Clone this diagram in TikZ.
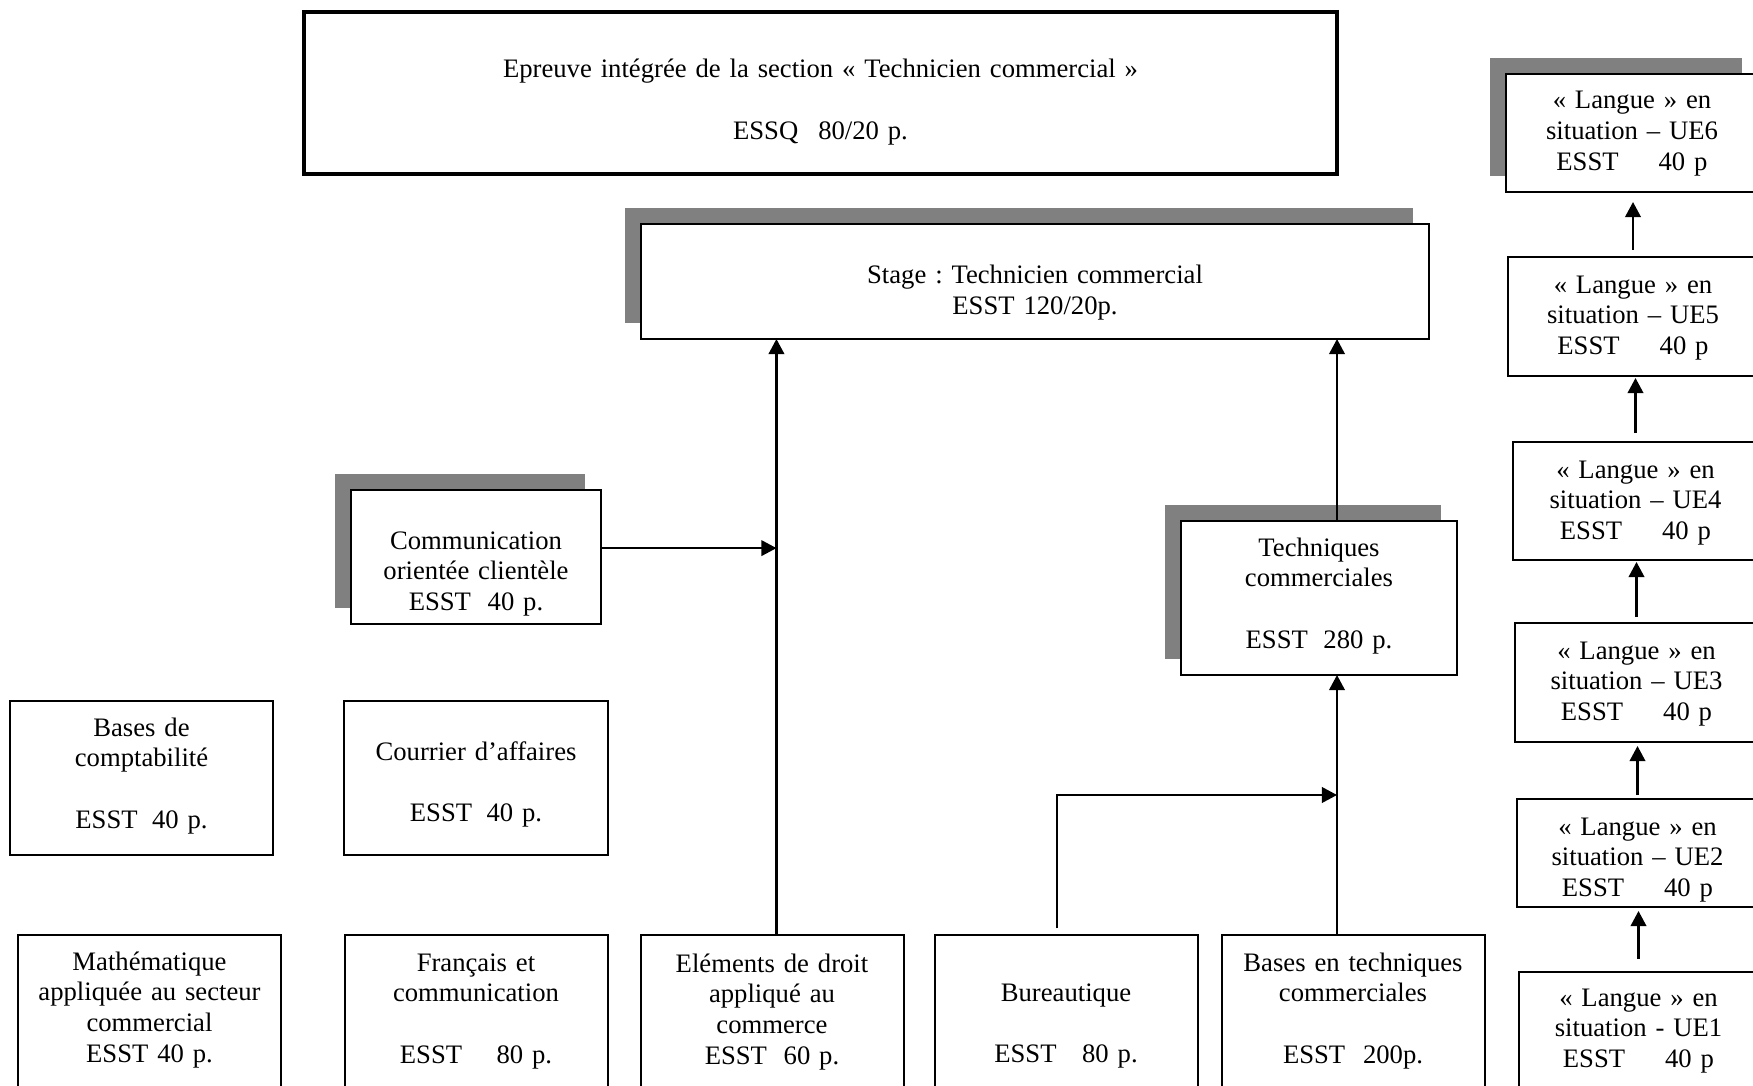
\documentclass[tikz,border=0pt]{standalone}
\usepackage{fontspec}
\setmainfont[WordSpace=0.85]{Liberation Serif}
\frenchspacing
\usetikzlibrary{arrows.meta,positioning,shadows}
\definecolor{shadowgray}{RGB}{128,128,128}

\begin{document}
\begin{tikzpicture}[
  x=0.45pt, y=-0.45pt,
  box/.style={draw, line width=0.9pt, fill=white, align=center, anchor=north,
    inner xsep=3pt, inner ysep=0pt, outer sep=0pt, font=\fontsize{12}{13.8}\selectfont},
  backdrop/.style={drop shadow={shadow xshift=-7.2pt, shadow yshift=7.2pt, fill=shadowgray, opacity=1}},
  arr/.style={-{Triangle[length=6.8pt,width=7pt]}, line width=1pt}
]
  \useasboundingbox (0,0) rectangle (1753,1086);
  \clip (0,0) rectangle (1753,1086);

  % final exam and internship
  \node[box, line width=1.6pt, text width=458.85pt, text height=29.7pt, text depth=43.2pt] (epreuve) at (820.5,12)
    {Epreuve intégrée de la section « Technicien commercial »\\[13.8pt]ESSQ\hspace{9pt}80/20 p.};
  \node[box, backdrop, text width=348.6pt, text height=27pt, text depth=24.75pt] (stage) at (1035,224)
    {Stage : Technicien commercial\\ESST 120/20p.};

  % intermediate modules
  \node[box, backdrop, text width=106.5pt, text height=26.55pt, text depth=33.75pt] (comm) at (476,490)
    {Communication\\orientée clientèle\\ESST\hspace{7.5pt}40 p.};
  \node[box, backdrop, text width=118.2pt, text height=15.75pt, text depth=53.55pt] (tech) at (1319,521)
    {Techniques\\commerciales\\[13.8pt]ESST\hspace{7pt}280 p.};
  \node[box, text width=112.35pt, text height=15.75pt, text depth=53.55pt] (compta) at (141.5,701)
    {Bases de\\comptabilité\\[13.8pt]ESST\hspace{6.5pt}40 p.};
  \node[box, text width=112.8pt, text height=26.55pt, text depth=42.75pt] (courrier) at (476,701)
    {Courrier d’affaires\\[13.8pt]ESST\hspace{6.5pt}40 p.};

  % base modules
  \node[box, text width=112.35pt, text height=15.75pt, text depth=72pt] (math) at (149.5,935)
    {Mathématique\\appliquée au secteur\\commercial\\ESST 40 p.};
  \node[box, text width=112.35pt, text height=16.2pt, text depth=72pt] (francais) at (476,935)
    {Français et\\communication\\[13.8pt]ESST\hspace{15.5pt}80 p.};
  \node[box, text width=112.35pt, text height=16.65pt, text depth=72pt] (elem) at (772,935)
    {Eléments de droit\\appliqué au\\commerce\\ESST\hspace{7.5pt}60 p.};
  \node[box, text width=112.35pt, text height=29.7pt, text depth=58pt] (bureau) at (1066,935)
    {Bureautique\\[13.8pt]ESST\hspace{11.5pt}80 p.};
  \node[box, text width=112.35pt, text height=16.2pt, text depth=72pt] (btech) at (1353,935)
    {Bases en techniques\\commerciales\\[13.8pt]ESST\hspace{8pt}200p.};

  % language column
  \node[box, backdrop, text width=107.4pt, text height=15.75pt, text depth=37.35pt] (ue6) at (1632,74)
    {« Langue » en\\situation – UE6\\ESST\hspace{18pt}40 p};
  \node[box, text width=106.5pt, text height=16.2pt, text depth=37.35pt] (ue5) at (1633,257)
    {« Langue » en\\situation – UE5\\ESST\hspace{18pt}40 p};
  \node[box, text width=104.25pt, text height=16.2pt, text depth=36.9pt] (ue4) at (1635.5,442)
    {« Langue » en\\situation – UE4\\ESST\hspace{18pt}40 p};
  \node[box, text width=103.35pt, text height=16.2pt, text depth=37.35pt] (ue3) at (1636.5,623)
    {« Langue » en\\situation – UE3\\ESST\hspace{18pt}40 p};
  \node[box, text width=102.45pt, text height=16.2pt, text depth=32.4pt] (ue2) at (1637.5,799)
    {« Langue » en\\situation – UE2\\ESST\hspace{18pt}40 p};
  \node[box, text width=101.55pt, text height=15.3pt, text depth=60pt] (ue1) at (1638.5,972)
    {« Langue » en\\situation - UE1\\ESST\hspace{18pt}40 p};

  % connectors
  \coordinate (eline) at ([xshift=2pt]elem.north);
  \coordinate (tline) at (1337,0);
  \coordinate (join) at (1337,795);
  \draw[arr] (eline) -- (eline |- stage.south);
  \draw[arr] ([yshift=4pt]comm.east) -- ([yshift=4pt]comm.east -| eline);
  \draw[arr] (btech.north -| tline) -- (tech.south -| tline);
  \draw[arr] (tech.north -| tline) -- (stage.south -| tline);
  \draw[arr] ([xshift=-4pt,yshift=3pt]bureau.north) |- (join);

  \draw[arr] ([yshift=6pt]ue1.north) -- ([yshift=-1.8pt]ue1.north |- ue2.south);
  \draw[arr] ([yshift=1.8pt]ue2.north) -- ([yshift=-1.8pt]ue2.north |- ue3.south);
  \draw[arr] ([yshift=2.7pt]ue3.north) -- ([yshift=-0.9pt]ue3.north |- ue4.south);
  \draw[arr] ([yshift=4pt]ue4.north) -- ([yshift=-0.9pt]ue4.north |- ue5.south);
  \draw[arr] ([yshift=3.2pt]ue5.north) -- ([yshift=-4.5pt]ue5.north |- ue6.south);
\end{tikzpicture}
\end{document}
